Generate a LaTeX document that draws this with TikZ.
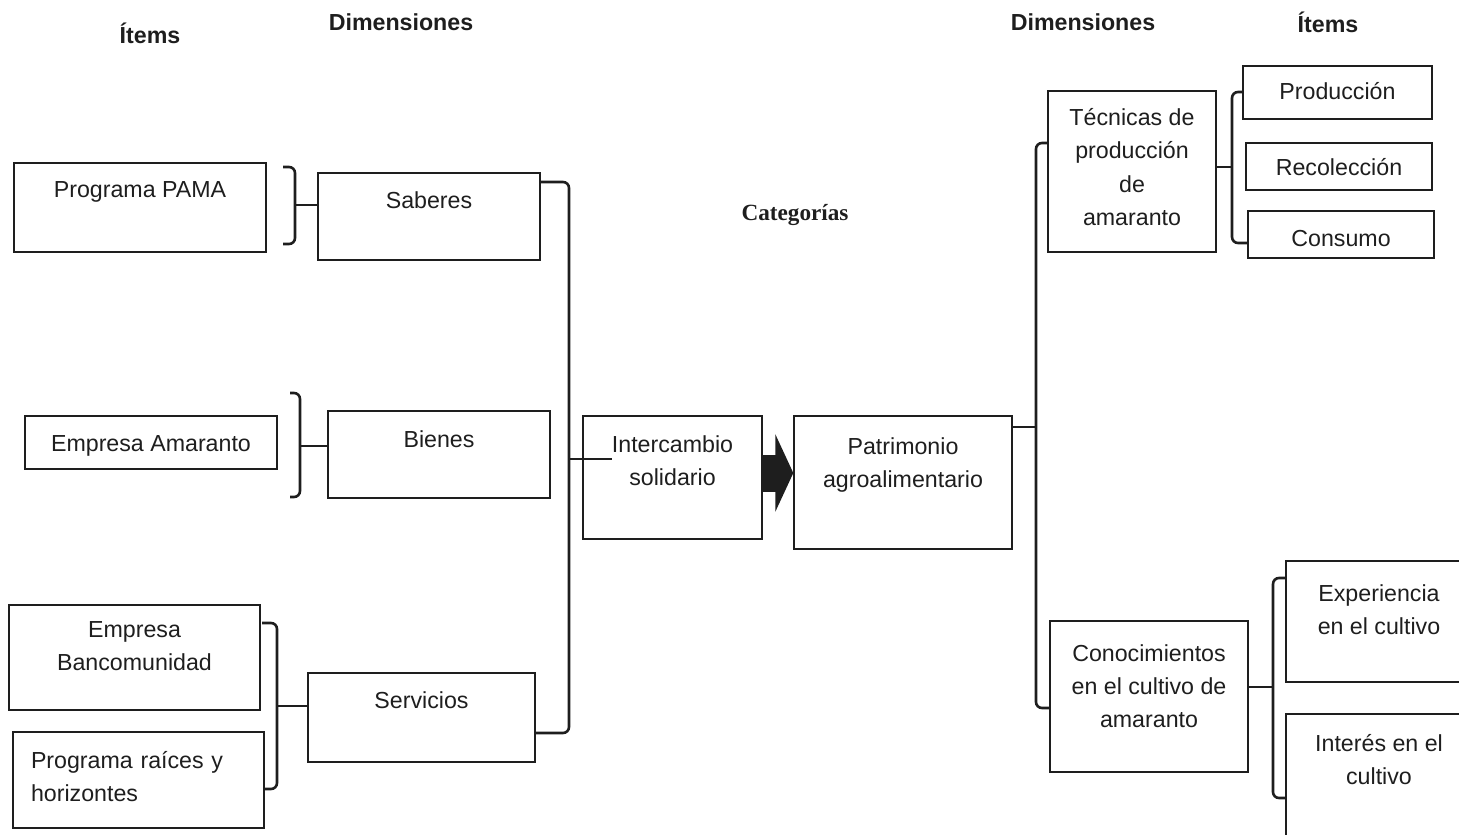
\documentclass[tikz,border=0pt]{standalone}
\usepackage{fontspec}
\setmainfont{Liberation Sans}
\newfontfamily\catfont{Liberation Serif}
\usetikzlibrary{arrows.meta,calc}
\definecolor{ink}{RGB}{30,30,30}
\newcommand\boxfont{\fontsize{11.6}{16.5}\selectfont}
\tikzset{
  every picture/.style={color=ink, x=0.5pt, y=-0.5pt},
  box/.style={draw=ink, line width=0.7pt, inner sep=0pt, align=center, font=\boxfont},
  head/.style={font=\bfseries\fontsize{11.6}{14}\selectfont},
  cat/.style={font=\catfont\bfseries\fontsize{11.6}{14}\selectfont},
  brk/.style={line width=1.3pt, rounded corners=3pt},
  fat/.style={line width=18.5pt, -{Triangle[length=9pt,width=38.5pt]}},
}

\begin{document}
\begin{tikzpicture}
  \useasboundingbox (0,0) rectangle (1459,834);
  % column heads
  \node[head] (itl) at (150,33) {Ítems};
  \node[head] (diml) at (401,22) {Dimensiones};
  \node[head] (dimr) at (1083,22) {Dimensiones};
  \node[head] (itr) at (1328,22) {Ítems};
  \node[cat] (catg) at (795,215) {Categorías};
  % left: items and dimensions
  \node[box, minimum width=126pt, text height=17.5pt, text depth=27pt] (pama) at (140,207.5) {Programa PAMA};
  \node[box, minimum width=111pt, text height=17.5pt, text depth=26pt] (sab) at (429,216.5) {Saberes};
  \node[box, minimum width=126pt, text height=17.5pt, text depth=9pt] (emp) at (151,442.5) {Empresa Amaranto};
  \node[box, minimum width=111pt, text height=18pt, text depth=25.5pt] (bie) at (439,454.5) {Bienes};
  \node[box, minimum width=125.5pt, text height=32.5pt, text depth=20pt] (banco) at (134.5,657.5) {Empresa\\Bancomunidad};
  \node[box, align=left, inner xsep=9pt, text width=107.5pt, text height=18pt, text depth=30pt] (raic) at (138.5,780) {Programa raíces y\\horizontes};
  \node[box, minimum width=113.5pt, text height=17.5pt, text depth=27pt] (serv) at (421.5,717.5) {Servicios};
  % categories
  \node[box, minimum width=89.5pt, text height=34.5pt, text depth=27pt] (inter) at (672.5,477.5) {Intercambio\\solidario};
  \node[box, minimum width=109pt, text height=35.5pt, text depth=31pt] (patri) at (903,482.5) {Patrimonio\\agroalimentario};
  % right: dimensions and items
  \node[box, minimum width=84pt, text height=67pt, text depth=13.5pt] (tec) at (1132,171.5) {Técnicas de\\producción\\de\\amaranto};
  \node[box, minimum width=94.5pt, text height=17pt, text depth=9.5pt] (prod) at (1337.5,92.5) {Producción};
  \node[box, minimum width=93pt, text height=16.5pt, text depth=7pt] (reco) at (1339,166.5) {Recolección};
  \node[box, minimum width=93pt, text height=17.5pt, text depth=6pt] (cons) at (1341,234.5) {Consumo};
  \node[box, minimum width=99pt, text height=53pt, text depth=22.5pt] (cono) at (1149,696.5) {Conocimientos\\en el cultivo de\\amaranto};
  \node[box, minimum width=93pt, text height=36.5pt, text depth=24pt] (expe) at (1379,621.5) {Experiencia\\en el cultivo};
  \node[box, minimum width=93pt, text height=35pt, text depth=28pt] (inte) at (1379,777) {Interés en el\\cultivo};
  % brackets
  \coordinate (j1) at (295,205);
  \draw[brk] (283,167) -- (295,167) -- (295,244) -- (283,244);
  \draw[brk] (j1) -- (j1 -| sab.west);
  \coordinate (j2) at (300,446);
  \draw[brk] (290,393) -- (300,393) -- (300,497) -- (290,497);
  \draw[brk] (j2) -- (j2 -| bie.west);
  \coordinate (j3) at (277,706);
  \draw[brk] (262,623) -- (277,623) -- (277,789) -- (265,789);
  \draw[brk] (j3) -- (j3 -| serv.west);
  \coordinate (j4) at (569,459);
  \coordinate (e4) at (612,459);
  \draw[brk] (540,182) -- (569,182) -- (569,733) -- (535,733);
  \draw[brk] (j4) -- (e4);
  \coordinate (j5) at (1036,427);
  \draw[brk] (1048,143) -- (1036,143) -- (1036,708) -- (1050,708);
  \draw[brk] (patri.east |- j5) -- (j5);
  \coordinate (j6) at (1232,167);
  \draw[brk] (1243,92) -- (1232,92) -- (1232,243) -- (1248,243);
  \draw[brk] (tec.east |- j6) -- (j6);
  \coordinate (j7) at (1273,687);
  \draw[brk] (1286,578) -- (1273,578) -- (1273,798) -- (1286,798);
  \draw[brk] (cono.east |- j7) -- (j7);
  % block arrow
  \coordinate (ay) at (0,473);
  \draw[fat] (inter.east |- ay) -- (patri.west |- ay);
\end{tikzpicture}
\end{document}
